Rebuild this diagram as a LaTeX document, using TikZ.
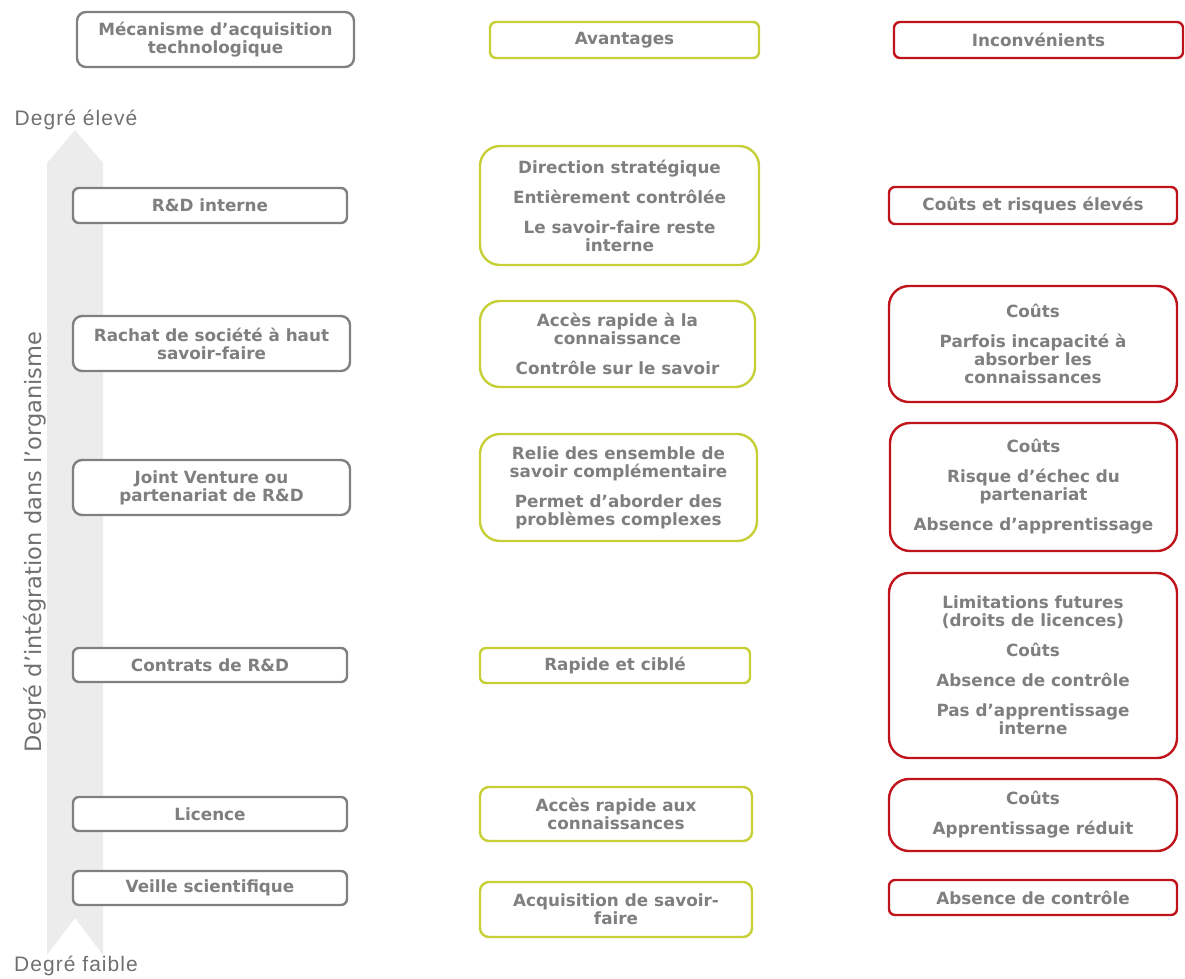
\documentclass[tikz,border=0pt]{standalone}
\usepackage{fontspec}
\setmainfont{DejaVu Sans}
\newfontfamily\boxfont{DejaVu Sans}
\newfontfamily\axisfont{DejaVu Sans}
\newfontfamily\endfont{Liberation Sans}[LetterSpace=5]
\definecolor{txtgray}{HTML}{7F7F7F}
\definecolor{boxgray}{HTML}{808080}
\definecolor{advgreen}{HTML}{C6CF36}
\definecolor{disred}{HTML}{C0141C}
\definecolor{bandgray}{HTML}{ECECEC}
\definecolor{axisgray}{HTML}{707070}
\tikzset{
  box/.style={draw, line width=2.4pt, fill=white, text=txtgray, align=center,
    inner sep=0pt, font=\boxfont\bfseries\fontsize{16.8}{18}\selectfont},
  mech/.style={box, draw=boxgray},
  adv/.style={box, draw=advgreen},
  dis/.style={box, draw=disred},
  small/.style={rounded corners=6pt},
  mid/.style={rounded corners=9pt},
  big/.style={rounded corners=20pt},
  endlabel/.style={text=axisgray, font=\endfont\fontsize{21}{24}\selectfont, inner sep=0pt},
}
\newcommand{\gap}{\\[12pt]}
\begin{document}
\begin{tikzpicture}[x=1pt, y=-1pt]
\useasboundingbox (0,0) rectangle (1185,978);

% integration axis: light band with a point at the top and a notch at the bottom
\fill[bandgray] (47,163) -- (75,130) -- (103,163) -- (103,955) -- (75,918) -- (47,955) -- cycle;
\node[endlabel] (high) at (76,120) {Degré élevé};
\node[endlabel] (low) at (76,966) {Degré faible};
\node[rotate=90, text=axisgray, font=\axisfont\fontsize{22.5}{24}\selectfont, inner sep=0pt] (axis) at (35,542) {Degré d’intégration dans l’organisme};

% column headers
\node[mech, mid, minimum width=277pt, minimum height=55pt] (hmech) at (215.5,39.5) {Mécanisme d’acquisition\\technologique};
\node[adv, small, minimum width=269pt, minimum height=36pt] (hadv) at (624.5,40) {Avantages};
\node[dis, small, minimum width=289pt, minimum height=36pt] (hdis) at (1038.5,40) {Inconvénients};

% acquisition mechanisms
\node[mech, small, minimum width=274pt, minimum height=35pt] (m1) at (210,205.5) {R\&D interne};
\node[mech, mid, minimum width=277pt, minimum height=55pt] (m2) at (211.5,343.5) {Rachat de société à haut\\savoir-faire};
\node[mech, mid, minimum width=277pt, minimum height=55pt] (m3) at (211.5,487.5) {Joint Venture ou\\partenariat de R\&D};
\node[mech, small, minimum width=274pt, minimum height=34pt] (m4) at (210,665) {Contrats de R\&D};
\node[mech, small, minimum width=274pt, minimum height=34pt] (m5) at (210,814) {Licence};
\node[mech, small, minimum width=274pt, minimum height=34pt] (m6) at (210,888) {Veille scientifique};

% advantages
\node[adv, big, minimum width=279pt, minimum height=119pt] (a1) at (619.5,205.5) {Direction stratégique\gap Entièrement contrôlée\gap Le savoir-faire reste\\interne};
\node[adv, big, minimum width=275pt, minimum height=86pt] (a2) at (617.5,344) {Accès rapide à la\\connaissance\gap Contrôle sur le savoir};
\node[adv, big, minimum width=277pt, minimum height=107pt] (a3) at (618.5,487.5) {Relie des ensemble de\\savoir complémentaire\gap Permet d’aborder des\\problèmes complexes};
\node[adv, small, minimum width=270pt, minimum height=35pt] (a4) at (615,665.5) {Rapide et ciblé};
\node[adv, mid, minimum width=272pt, minimum height=54pt] (a5) at (616,814) {Accès rapide aux\\connaissances};
\node[adv, mid, minimum width=272pt, minimum height=55pt] (a6) at (616,909.5) {Acquisition de savoir-\\faire};

% drawbacks
\node[dis, small, minimum width=288pt, minimum height=37pt] (d1) at (1033,205.5) {Coûts et risques élevés};
\node[dis, big, minimum width=288pt, minimum height=116pt] (d2) at (1033,344) {Coûts\gap Parfois incapacité à\\absorber les\\connaissances};
\node[dis, big, minimum width=287pt, minimum height=128pt] (d3) at (1033.5,487) {Coûts\gap Risque d’échec du\\partenariat\gap Absence d’apprentissage};
\node[dis, big, minimum width=288pt, minimum height=185pt] (d4) at (1033,665.5) {Limitations futures\\(droits de licences)\gap Coûts\gap Absence de contrôle\gap Pas d’apprentissage\\interne};
\node[dis, big, minimum width=288pt, minimum height=72pt] (d5) at (1033,815) {Coûts\gap Apprentissage réduit};
\node[dis, small, minimum width=288pt, minimum height=35pt] (d6) at (1033,897.5) {Absence de contrôle};
\end{tikzpicture}
\end{document}
